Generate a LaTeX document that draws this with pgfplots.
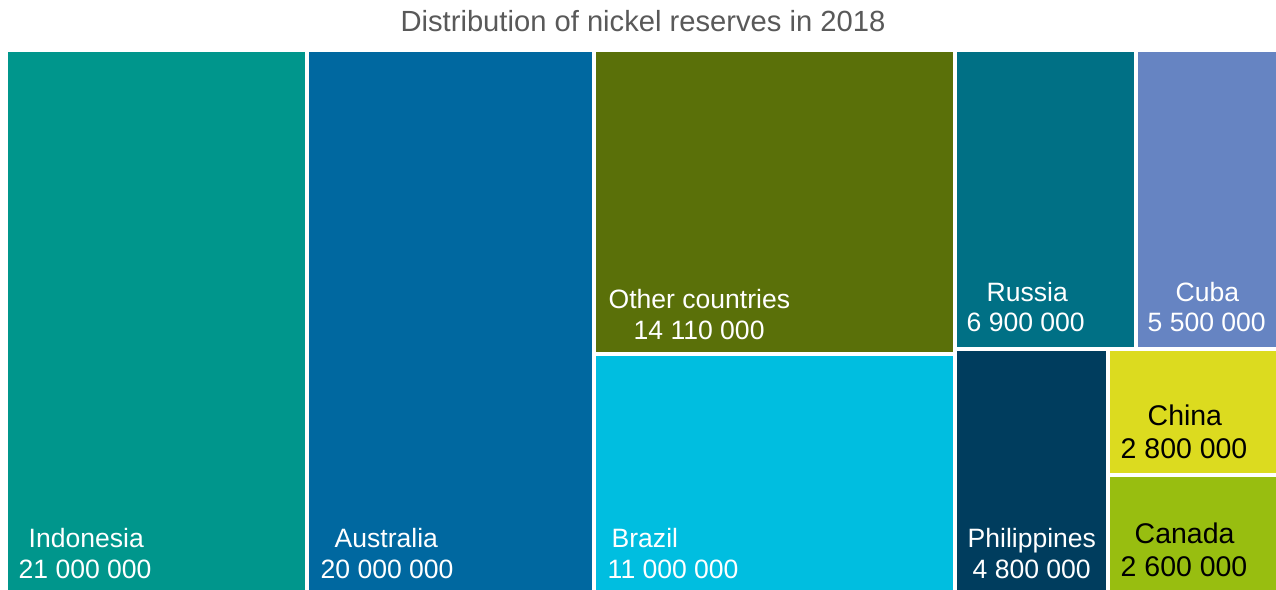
\documentclass[border=0pt]{standalone}
\usepackage{pgfplots}
\pgfplotsset{compat=1.18}
\usepackage{fontspec}
\setmainfont{Liberation Sans}
\definecolor{cIdn}{HTML}{00968C}
\definecolor{cAus}{HTML}{0068A0}
\definecolor{cOth}{HTML}{5A7009}
\definecolor{cBra}{HTML}{00BEE0}
\definecolor{cRus}{HTML}{007085}
\definecolor{cCub}{HTML}{6684C2}
\definecolor{cPhi}{HTML}{003D5E}
\definecolor{cChi}{HTML}{DCDB1F}
\definecolor{cCan}{HTML}{98BE10}
\definecolor{ttl}{HTML}{595959}
\tikzset{lbl/.style={anchor=base west, inner sep=0pt, font=\fontsize{7.55}{9}\selectfont},
         lblb/.style={anchor=base west, inner sep=0pt, text=black, font=\fontsize{8.1}{9}\selectfont}}
\begin{document}
\begin{tikzpicture}
\begin{axis}[
  scale only axis, width=127.6mm, height=59mm,
  xmin=0, xmax=1276, ymin=0, ymax=590, y dir=reverse,
  hide axis, clip=false,
]
\addplot[draw=none, fill=none, forget plot] coordinates {(0,0) (1276,590)};
% rectangles of the treemap (pixel layout)
\addplot[fill=cIdn, draw=none] coordinates {(8,52) (305,52) (305,590) (8,590)} -- cycle;
\addplot[fill=cAus, draw=none] coordinates {(309,52) (592,52) (592,590) (309,590)} -- cycle;
\addplot[fill=cOth, draw=none] coordinates {(596,52) (953,52) (953,352) (596,352)} -- cycle;
\addplot[fill=cBra, draw=none] coordinates {(596,356) (953,356) (953,590) (596,590)} -- cycle;
\addplot[fill=cRus, draw=none] coordinates {(957,52) (1134,52) (1134,347) (957,347)} -- cycle;
\addplot[fill=cCub, draw=none] coordinates {(1138,52) (1276,52) (1276,347) (1138,347)} -- cycle;
\addplot[fill=cPhi, draw=none] coordinates {(957,351) (1106,351) (1106,590) (957,590)} -- cycle;
\addplot[fill=cChi, draw=none] coordinates {(1110,351) (1276,351) (1276,473) (1110,473)} -- cycle;
\addplot[fill=cCan, draw=none] coordinates {(1110,477) (1276,477) (1276,590) (1110,590)} -- cycle;
% title
\node[anchor=base, inner sep=0pt, text=ttl, font=\fontsize{8.3}{10}\selectfont] at (axis cs:643,31) {Distribution of nickel reserves in 2018};
% labels
\node[lbl, text=white] at (axis cs:28,548) {Indonesia};
\node[lbl, text=white] at (axis cs:18,579) {21 000 000};
\node[lbl, text=white] at (axis cs:334,548) {Australia};
\node[lbl, text=white] at (axis cs:320,579) {20 000 000};
\node[lbl, text=white] at (axis cs:608,308) {Other countries};
\node[lbl, text=white] at (axis cs:633,339) {14 110 000};
\node[lbl, text=white] at (axis cs:611,548) {Brazil};
\node[lbl, text=white] at (axis cs:607,579) {11 000 000};
\node[lbl, text=white] at (axis cs:986,301) {Russia};
\node[lbl, text=white] at (axis cs:966,332) {6 900 000};
\node[lbl, text=white] at (axis cs:1175,301) {Cuba};
\node[lbl, text=white] at (axis cs:1147,332) {5 500 000};
\node[lbl, text=white] at (axis cs:967,548) {Philippines};
\node[lbl, text=white] at (axis cs:972,579) {4 800 000};
\node[lblb] at (axis cs:1147,426) {China};
\node[lblb] at (axis cs:1120,459) {2 800 000};
\node[lblb] at (axis cs:1134,544) {Canada};
\node[lblb] at (axis cs:1120,577) {2 600 000};
\end{axis}
\end{tikzpicture}
\end{document}
